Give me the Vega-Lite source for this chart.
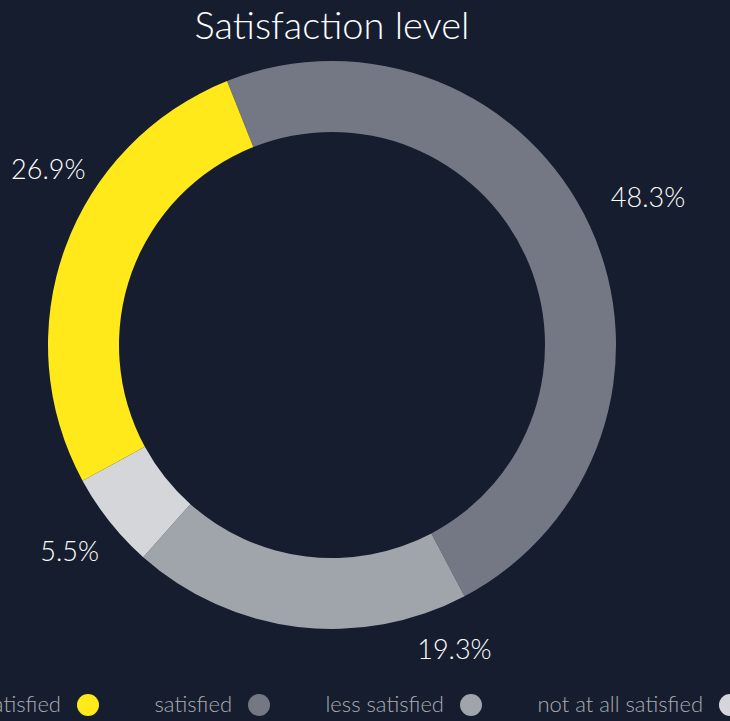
{
  "$schema": "https://vega.github.io/schema/vega-lite/v6.json",
  "width": 664,
  "height": 590,
  "autosize": {"type": "none"},
  "padding": {"left": 0, "top": 50, "right": 66, "bottom": 81},
  "background": "#161d2f",
  "title": {"text": "Satisfaction level", "fontSize": 38, "font": "Lato", "fontWeight": 300, "color": "#ffffff", "anchor": "middle", "offset": 3},
  "data": {
    "values": [
      {"level": "satisfied", "share": 0.483, "ord": 1},
      {"level": "less satisfied", "share": 0.193, "ord": 2},
      {"level": "not at all satisfied", "share": 0.055, "ord": 3},
      {"level": "very satisfied", "share": 0.269, "ord": 4}
    ]
  },
  "encoding": {
    "theta": {"field": "share", "type": "quantitative", "stack": true, "scale": {"range": [-0.3787, 5.9045]}},
    "order": {"field": "ord", "type": "quantitative"}
  },
  "layer": [
    {
      "mark": {"type": "arc", "outerRadius": 284, "innerRadius": 213},
      "encoding": {
        "color": {
          "field": "level",
          "type": "nominal",
          "scale": {
            "domain": ["very satisfied", "satisfied", "less satisfied", "not at all satisfied"],
            "range": ["#ffe91a", "#737884", "#a0a4ab", "#d5d6da"]
          },
          "legend": {
            "title": null,
            "orient": "none",
            "direction": "horizontal",
            "legendX": 77,
            "legendY": 644,
            "symbolType": "circle",
            "symbolSize": 484,
            "symbolOpacity": 1,
            "symbolStrokeWidth": 0,
            "labelAlign": "right",
            "labelOffset": -38,
            "labelFont": "Lato",
            "labelFontWeight": 300,
            "labelFontSize": 22,
            "labelColor": "#a9acb3",
            "labelLimit": 300,
            "columnPadding": 55
          }
        }
      }
    },
    {
      "mark": {"type": "text", "radius": 348, "fontSize": 27, "font": "Lato", "fontWeight": 300, "color": "#ffffff"},
      "encoding": {
        "text": {"field": "share", "type": "quantitative", "format": ".1%"},
        "opacity": {"condition": {"test": "datum.ord == 1", "value": 1}, "value": 0}
      }
    },
    {
      "mark": {"type": "text", "radius": 335, "fontSize": 27, "font": "Lato", "fontWeight": 300, "color": "#ffffff"},
      "encoding": {
        "text": {"field": "share", "type": "quantitative", "format": ".1%"},
        "opacity": {"condition": {"test": "datum.ord == 3", "value": 1}, "value": 0}
      }
    },
    {
      "mark": {"type": "text", "radius": 330, "fontSize": 27, "font": "Lato", "fontWeight": 300, "color": "#ffffff"},
      "encoding": {
        "theta": {"field": "share", "type": "quantitative", "stack": true, "scale": {"range": [-0.8797, 5.4035]}},
        "text": {"field": "share", "type": "quantitative", "format": ".1%"},
        "opacity": {"condition": {"test": "datum.ord == 2", "value": 1}, "value": 0}
      }
    },
    {
      "mark": {"type": "text", "radius": 333, "fontSize": 27, "font": "Lato", "fontWeight": 300, "color": "#ffffff"},
      "encoding": {
        "theta": {"field": "share", "type": "quantitative", "stack": true, "scale": {"range": [-0.1747, 6.1085]}},
        "text": {"field": "share", "type": "quantitative", "format": ".1%"},
        "opacity": {"condition": {"test": "datum.ord == 4", "value": 1}, "value": 0}
      }
    }
  ],
  "resolve": {"scale": {"theta": "independent"}}
}
